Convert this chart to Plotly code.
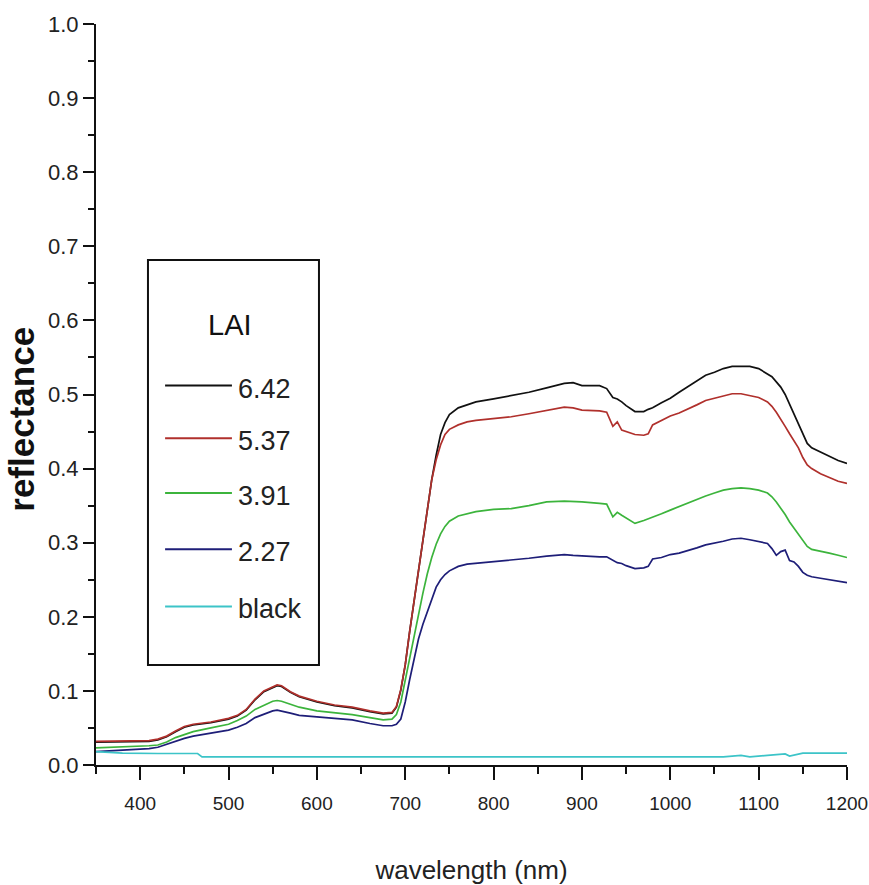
import plotly.graph_objects as go

# Canopy reflectance spectra for different leaf area index (LAI) values
wavelength = [
    350, 380, 410, 420, 430, 440, 450, 460, 480, 500, 510, 520, 530, 540, 550,
    555, 560, 570, 580, 600, 620, 640, 660, 675, 685, 690, 695, 700, 705, 710,
    715, 720, 725, 730, 735, 740, 745, 750, 760, 770, 780, 800, 820, 840, 860,
    880, 890, 900, 920, 928, 935, 940, 945, 950, 960, 970, 975, 980, 990, 1000,
    1010, 1020, 1030, 1040, 1050, 1060, 1070, 1080, 1090, 1100, 1110, 1115,
    1120, 1125, 1130, 1135, 1140, 1145, 1150, 1155, 1160, 1170, 1180, 1190, 1200,
]

lai_642 = [
    0.031, 0.031, 0.032, 0.034, 0.038, 0.045, 0.051, 0.054, 0.057, 0.062, 0.066,
    0.074, 0.088, 0.099, 0.105, 0.107, 0.106, 0.098, 0.092, 0.085, 0.080, 0.077,
    0.072, 0.069, 0.070, 0.078, 0.101, 0.135, 0.180, 0.222, 0.265, 0.305, 0.348,
    0.385, 0.418, 0.446, 0.462, 0.473, 0.482, 0.486, 0.490, 0.494, 0.498, 0.503,
    0.509, 0.515, 0.516, 0.512, 0.512, 0.508, 0.496, 0.494, 0.490, 0.485, 0.477,
    0.477, 0.480, 0.482, 0.489, 0.495, 0.503, 0.511, 0.519, 0.526, 0.530, 0.535,
    0.538, 0.538, 0.538, 0.535, 0.528, 0.524, 0.517, 0.510, 0.500, 0.487, 0.475,
    0.462, 0.448, 0.434, 0.428, 0.422, 0.416, 0.411, 0.407,
]

lai_537 = [
    0.032, 0.032, 0.033, 0.035, 0.039, 0.046, 0.052, 0.055, 0.058, 0.063, 0.067,
    0.075, 0.089, 0.100, 0.106, 0.108, 0.107, 0.099, 0.093, 0.086, 0.081, 0.078,
    0.073, 0.070, 0.071, 0.079, 0.102, 0.135, 0.180, 0.222, 0.265, 0.305, 0.348,
    0.385, 0.412, 0.432, 0.446, 0.453, 0.459, 0.463, 0.465, 0.467, 0.470, 0.474,
    0.479, 0.483, 0.482, 0.479, 0.478, 0.476, 0.457, 0.463, 0.452, 0.450, 0.446,
    0.445, 0.447, 0.459, 0.465, 0.471, 0.475, 0.480, 0.486, 0.492, 0.495, 0.499,
    0.501, 0.501, 0.499, 0.496, 0.490, 0.484, 0.476, 0.467, 0.457, 0.447, 0.438,
    0.428, 0.415, 0.405, 0.400, 0.393, 0.388, 0.383, 0.380,
]

lai_391 = [
    0.023, 0.024, 0.026, 0.027, 0.031, 0.037, 0.041, 0.045, 0.050, 0.055, 0.060,
    0.066, 0.075, 0.081, 0.086, 0.087, 0.086, 0.082, 0.078, 0.073, 0.071, 0.068,
    0.064, 0.061, 0.062, 0.068, 0.085, 0.115, 0.145, 0.175, 0.205, 0.232, 0.258,
    0.280, 0.298, 0.312, 0.322, 0.329, 0.336, 0.339, 0.342, 0.345, 0.346, 0.350,
    0.355, 0.356, 0.356, 0.355, 0.353, 0.352, 0.335, 0.341, 0.337, 0.333, 0.326,
    0.330, 0.332, 0.334, 0.339, 0.344, 0.349, 0.354, 0.358, 0.363, 0.367, 0.371,
    0.373, 0.374, 0.373, 0.371, 0.367, 0.362, 0.355, 0.347, 0.338, 0.328, 0.320,
    0.312, 0.303, 0.295, 0.291, 0.289, 0.286, 0.283, 0.280,
]

lai_227 = [
    0.018, 0.020, 0.022, 0.024, 0.028, 0.033, 0.036, 0.039, 0.043, 0.047, 0.051,
    0.056, 0.064, 0.069, 0.073, 0.074, 0.073, 0.070, 0.067, 0.065, 0.063, 0.061,
    0.056, 0.053, 0.053, 0.055, 0.062, 0.085, 0.115, 0.145, 0.170, 0.190, 0.207,
    0.225, 0.240, 0.250, 0.257, 0.262, 0.268, 0.271, 0.272, 0.274, 0.277, 0.279,
    0.282, 0.284, 0.283, 0.282, 0.281, 0.281, 0.276, 0.273, 0.272, 0.269, 0.265,
    0.266, 0.268, 0.278, 0.280, 0.284, 0.286, 0.289, 0.293, 0.297, 0.299, 0.302,
    0.305, 0.306, 0.304, 0.302, 0.299, 0.292, 0.283, 0.288, 0.290, 0.276, 0.274,
    0.268, 0.260, 0.256, 0.254, 0.252, 0.250, 0.248, 0.246,
]

# Black reference panel spectrum
black_wavelength = [350, 380, 420, 465, 470, 1030, 1050, 1060, 1080, 1090,
                    1110, 1130, 1135, 1145, 1150, 1200]
black_panel = [0.018, 0.016, 0.0155, 0.0155, 0.011, 0.011, 0.012, 0.011, 0.013,
               0.011, 0.013, 0.015, 0.012, 0.014, 0.016, 0.016]

series_names = ["6.42", "5.37", "3.91", "2.27", "black"]
series_colors = ["#111111", "#b0302c", "#3cb43c", "#1e1e78", "#3cc4c8"]
series_x = [wavelength, wavelength, wavelength, wavelength, black_wavelength]
series_y = [lai_642, lai_537, lai_391, lai_227, black_panel]

SANS = "Liberation Sans, Arial, sans-serif"

fig = go.Figure()
for name, color, xs, ys in zip(series_names, series_colors, series_x, series_y):
    fig.add_trace(go.Scatter(
        x=xs, y=ys, name=name, mode="lines",
        line=dict(color=color, width=1.7),
        showlegend=False,
    ))

# Legend panel: framed box with title and line samples
box_x0, box_x1 = 0.0692, 0.2969
box_y0, box_y1 = 0.135, 0.6815
fig.add_shape(type="rect", xref="paper", yref="paper",
              x0=box_x0, x1=box_x1, y0=box_y0, y1=box_y1,
              line=dict(color="#111111", width=2), fillcolor="white", layer="above")
fig.add_annotation(xref="paper", yref="paper", x=0.178, y=0.594, text="LAI",
                   showarrow=False, xanchor="center", yanchor="middle",
                   font=dict(family=SANS, size=29, color="#111111"))
entry_y = [0.508, 0.437, 0.363, 0.287, 0.210]
for name, color, ey in zip(series_names, series_colors, entry_y):
    fig.add_shape(type="line", xref="paper", yref="paper",
                  x0=0.092, x1=0.181, y0=ey + 0.004, y1=ey + 0.004,
                  line=dict(color=color, width=2), layer="above")
    fig.add_annotation(xref="paper", yref="paper", x=0.186, y=ey, text=name,
                       showarrow=False, xanchor="left", yanchor="middle",
                       font=dict(family=SANS, size=27, color="#222222"))

# Y-axis title, set a little below the middle of the axis
fig.add_annotation(xref="paper", yref="paper", x=-0.0985, y=0.466,
                   text="<b>reflectance</b>", textangle=-90, showarrow=False,
                   xanchor="center", yanchor="middle",
                   font=dict(family=SANS, size=35, color="#111111"))

fig.update_layout(
    width=869, height=885,
    margin=dict(l=96, r=22, t=24, b=120, autoexpand=False),
    paper_bgcolor="white", plot_bgcolor="white",
    showlegend=False,
    font=dict(family=SANS, color="#222222"),
)

fig.update_xaxes(
    range=[350, 1200], showgrid=False, zeroline=False, automargin=False,
    showline=True, linecolor="#111111", linewidth=2,
    ticks="outside", ticklen=13, tickwidth=2, tickcolor="#111111",
    tickmode="array", tickvals=[400, 500, 600, 700, 800, 900, 1000, 1100, 1200],
    ticklabeloverflow="allow", ticklabelstandoff=7,
    tickfont=dict(family=SANS, size=19, color="#222222"),
    minor=dict(tickmode="array",
               tickvals=[350, 450, 550, 650, 750, 850, 950, 1050, 1150],
               ticks="outside", ticklen=7, tickwidth=2, tickcolor="#111111"),
    title=dict(text="wavelength (nm)", standoff=48,
               font=dict(family=SANS, size=26, color="#222222")),
)

fig.update_yaxes(
    range=[0, 1], showgrid=False, zeroline=False, automargin=False,
    showline=True, linecolor="#111111", linewidth=2,
    ticks="outside", ticklen=11, tickwidth=2, tickcolor="#111111",
    dtick=0.1, tick0=0, tickformat=".1f",
    tickfont=dict(family=SANS, size=22, color="#222222"),
    minor=dict(dtick=0.05, ticks="outside", ticklen=6, tickwidth=2,
               tickcolor="#111111"),
)

fig.write_html("out.html")
